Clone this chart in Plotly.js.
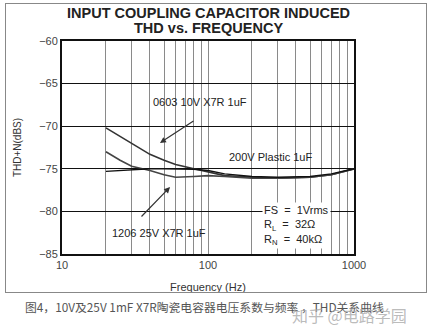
<!DOCTYPE html>
<html><head><meta charset="utf-8">
<script src="https://cdn.plot.ly/plotly-3.0.1.min.js"></script>
<style>html,body{margin:0;padding:0;background:#fff}</style>
</head><body><div id="chart" style="width:440px;height:335px"></div>
<script>
const freq = [20, 25, 30, 40, 50, 60, 80, 100, 130, 200, 300, 500, 700, 1000];
const c0603 = [-70.2, -71.2, -72.0, -73.3, -74.0, -74.5, -75.0, -75.4, -75.8, -76.0, -76.1, -76.0, -75.7, -75.0];
const c1206 = [-73.0, -74.0, -74.7, -75.2, -75.7, -76.0, -75.9, -75.8, -75.9, -76.1, -76.1, -76.0, -75.7, -75.0];
const plastic = [-75.3, -75.2, -75.1, -75.0, -75.0, -75.0, -75.05, -75.2, -75.6, -75.9, -76.0, -75.9, -75.6, -75.0];
const xTicks = [10,20,30,40,50,60,70,80,90,100,200,300,400,500,600,700,800,900,1000];
const xTickText = xTicks.map(v => (v===10||v===100||v===1000) ? String(v) : '');
const yTicks = [-85,-80,-75,-70,-65,-60];
const titleLines = ['INPUT COUPLING CAPACITOR INDUCED', 'THD vs. FREQUENCY'];

const font = 'Liberation Sans, Arial, sans-serif';
const traces = [
  {x: freq, y: c0603, mode:'lines', line:{color:'#333', width:1.6}, name:'0603 10V X7R 1uF'},
  {x: freq, y: c1206, mode:'lines', line:{color:'#444', width:1.6}, name:'1206 25V X7R 1uF'},
  {x: freq, y: plastic, mode:'lines', line:{color:'#111', width:1.4}, name:'200V Plastic 1uF'}
];
const layout = {
  width:440, height:335, showlegend:false,
  margin:{l:62, r:86, t:41, b:81},
  paper_bgcolor:'#fff', plot_bgcolor:'#fff',
  font:{family:font, color:'#333', size:11},
  xaxis:{type:'log', range:[1,3], tickvals:xTicks, ticktext:xTickText, ticks:'', showgrid:true, gridcolor:'#8a8a8a', gridwidth:1,
    showline:true, mirror:true, linecolor:'#111', linewidth:2, zeroline:false, tickfont:{size:11, color:'#444'},
    title:{text:'Frequency (Hz)', font:{size:11, color:'#333'}, standoff:13}},
  yaxis:{range:[-85,-60], tickvals:yTicks, ticks:'', showgrid:true, gridcolor:'#111', gridwidth:1,
    showline:true, mirror:true, linecolor:'#111', linewidth:2, zeroline:false, tickfont:{size:11, color:'#444'},
    title:{text:'THD+N(dBS)', font:{size:10, color:'#333'}, standoff:16}},
  annotations:[
    {xref:'paper', yref:'paper', x:(216-62)/292, y:(254-148)/213, xanchor:'center', yanchor:'middle', showarrow:false,
      text:' ', width:420, height:288, bordercolor:'#888', borderwidth:1, borderpad:0, bgcolor:'rgba(0,0,0,0)'},
    {xref:'paper', yref:'paper', x:(208-62)/292, y:(254-13)/213, xanchor:'center', yanchor:'middle', showarrow:false,
      text:'<b>'+titleLines[0]+'</b>', font:{family:font, size:14.5, color:'#222'}},
    {xref:'paper', yref:'paper', x:(208-62)/292, y:(254-28)/213, xanchor:'center', yanchor:'middle', showarrow:false,
      text:'<b>'+titleLines[1]+'</b>', font:{family:font, size:14.5, color:'#222'}},
    {x:1.671, y:-71.97, ax:35, ay:-23, showarrow:true, arrowhead:2, arrowsize:1, arrowwidth:1.2, arrowcolor:'#333', text:''},
    {x:1.740, y:-77.14, ax:-30, ay:31, showarrow:true, arrowhead:2, arrowsize:1, arrowwidth:1.2, arrowcolor:'#333', text:''},
    {x:1.945, y:-67.16, showarrow:false, text:'0603 10V X7R 1uF', font:{size:11, color:'#222'}},
    {x:1.664, y:-82.54, showarrow:false, text:'1206 25V X7R 1uF', font:{size:11, color:'#222'}},
    {x:2.425, y:-73.6, showarrow:false, text:'200V Plastic 1uF', font:{size:11, color:'#222'}},
    {x:2.37, y:-81.6, xanchor:'left', showarrow:false, align:'left', bgcolor:'#fff', borderpad:1,
      text:'FS  =  1Vrms<br>R<sub>L</sub>  =  32Ω<br>R<sub>N</sub>  =  40kΩ', font:{size:11, color:'#222'}},
    {xref:'paper', yref:'paper', x:(23-62)/292, y:(254-306)/213, xanchor:'left', yanchor:'middle', showarrow:false,
      text:'图4，10V及25V 1mF X7R陶瓷电容器电压系数与频率 ，THD关系曲线', font:{family:'Noto Sans CJK SC', size:11.8, color:'#555'}},
    {xref:'paper', yref:'paper', x:(290-62)/292, y:(254-315)/213, xanchor:'left', yanchor:'middle', showarrow:false,
      text:'知乎 @电路学园', font:{family:'Noto Sans CJK SC', size:16, color:'rgba(170,170,170,0.8)'}}
  ]
};
Plotly.newPlot('chart', traces, layout, {staticPlot:true, displayModeBar:false});
</script></body></html>
